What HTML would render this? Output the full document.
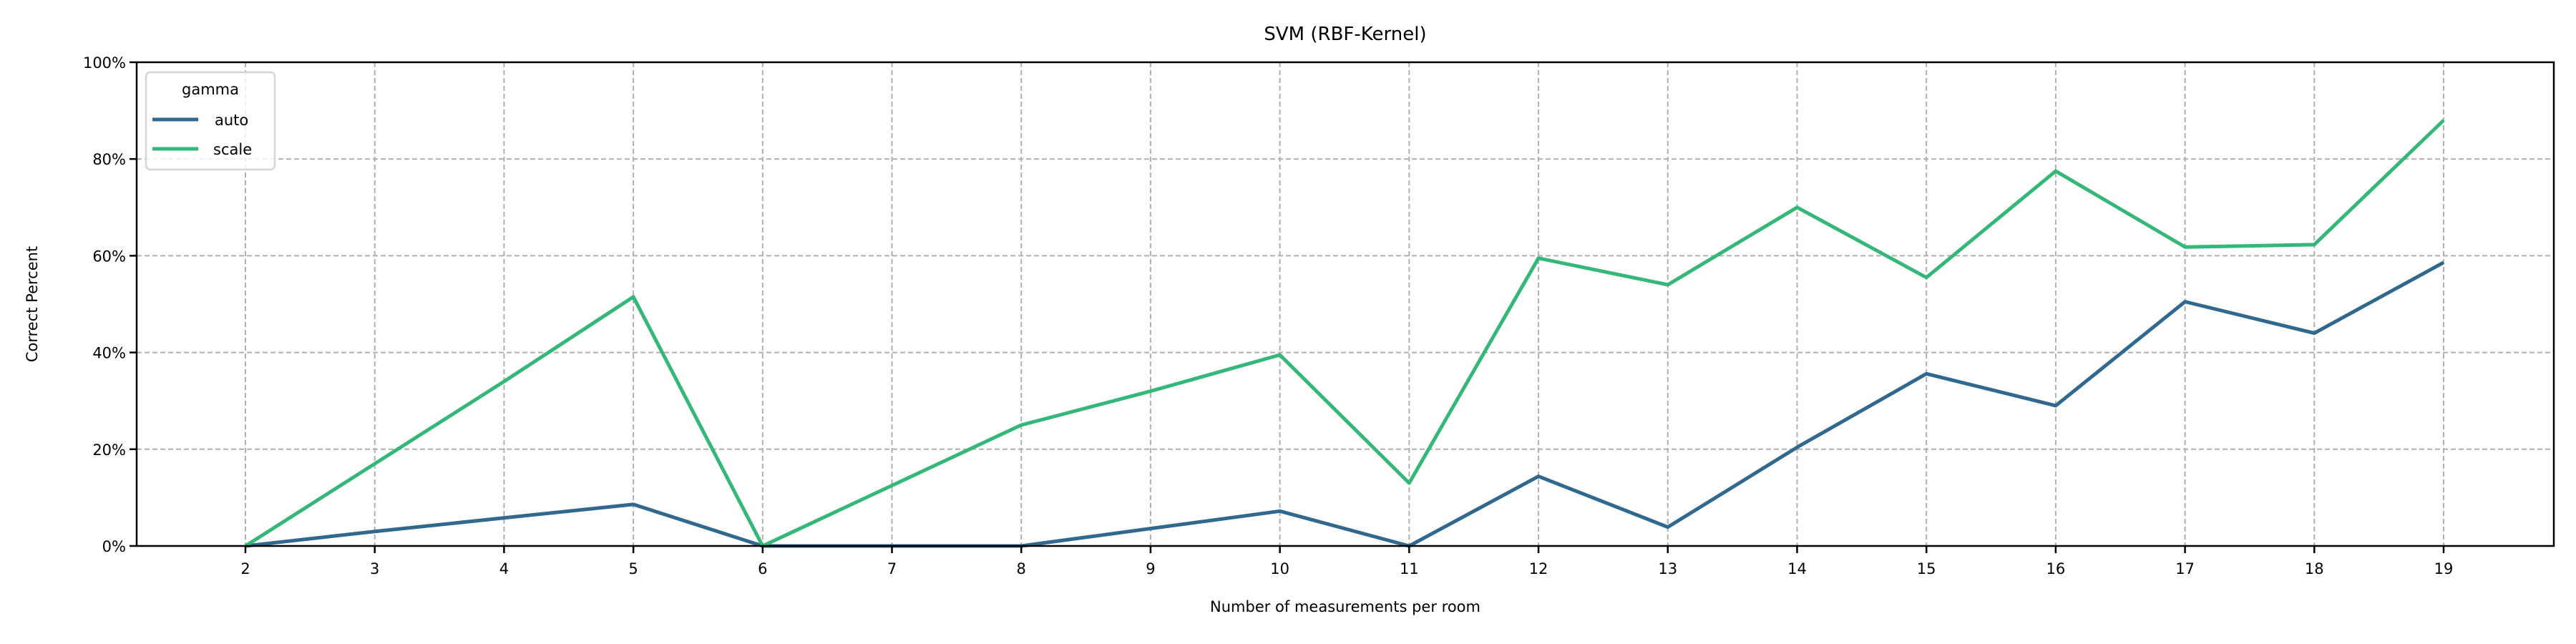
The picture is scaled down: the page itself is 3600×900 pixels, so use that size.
<!DOCTYPE html>
<html><head><meta charset="utf-8"><style>
html,body{margin:0;padding:0;background:#fff}
svg{display:block;font-family:"DejaVu Sans","Liberation Sans",sans-serif}
</style></head><body>
<svg id="chart" width="3600" height="900" viewBox="0 0 3600 900" xmlns="http://www.w3.org/2000/svg">
<text x="1880" y="56" font-size="26" text-anchor="middle">SVM (RBF-Kernel)</text>
<text x="1880" y="855" font-size="21" text-anchor="middle">Number of measurements per room</text>
<text transform="translate(52,425) rotate(-90)" font-size="21" text-anchor="middle">Correct Percent</text>
<g id="grid"></g>
<g id="series"></g>
<g id="axes"></g>
<g>
<rect x="204" y="101" width="180" height="136" rx="6" fill="#fff" fill-opacity="0.8" stroke="#d6d6d6" stroke-width="2.5"/>
<text x="294" y="132" font-size="21" text-anchor="middle">gamma</text>
<line x1="213" y1="167" x2="277" y2="167" stroke="#31688e" stroke-width="5"/>
<text x="300" y="175" font-size="21">auto</text>
<line x1="213" y1="208" x2="277" y2="208" stroke="#35b779" stroke-width="5"/>
<text x="298" y="216" font-size="21">scale</text>
</g>
</svg>
<script>
const categories = [2,3,4,5,6,7,8,9,10,11,12,13,14,15,16,17,18,19];
const autoValues = [0,3,5.8,8.6,0,0,0,3.6,7.2,0,14.4,3.9,20.4,35.6,29,50.5,44,58.6];
const scaleValues = [0,17,34,51.5,0,12.5,25,32,39.5,13,59.5,54,70,55.5,77.5,61.8,62.3,88];
const yTicks = [0,20,40,60,80,100];
const yTickLabels = ["0%","20%","40%","60%","80%","100%"];

const L=191,R=3569,T=87,B=763;
const xs = c => 343 + (c-2)*(3415-343)/17;
const ys = v => B - v*(B-T)/100;
const NS="http://www.w3.org/2000/svg";
function mk(tag, attrs, parent){const e=document.createElementNS(NS,tag);for(const k in attrs)e.setAttribute(k,attrs[k]);parent.appendChild(e);return e;}
const grid=document.getElementById('grid'),axes=document.getElementById('axes'),series=document.getElementById('series');
categories.forEach(c=>{
  const g=mk('line',{x1:xs(c),x2:xs(c),y1:T,y2:B,stroke:'#b0b0b0','stroke-width':2,'stroke-dasharray':'7,4'},grid);
  
  
  const t=mk('line',{x1:xs(c),x2:xs(c),y1:B,y2:B+10,stroke:'#000','stroke-width':2.5},axes);
  
  
  const l=mk('text',{x:xs(c),y:B+39,'font-size':21,'text-anchor':'middle'},axes);
  l.textContent=c;
  
  
});
yTicks.forEach((v,i)=>{
  if(v>0&&v<100){const g=mk('line',{x1:L,x2:R,y1:ys(v),y2:ys(v),stroke:'#b0b0b0','stroke-width':2,'stroke-dasharray':'7,4'},grid);
  
  }
  const t=mk('line',{x1:L-10,x2:L,y1:ys(v),y2:ys(v),stroke:'#000','stroke-width':2.5},axes);
  
  
  const l=mk('text',{x:L-15,y:ys(v)+8,'font-size':21,'text-anchor':'end'},axes);
  l.textContent=yTickLabels[i];
  
  
});
const frame=mk('rect',{x:L,y:T,width:R-L,height:B-T,fill:'none',stroke:'#000','stroke-width':2.5},axes);


function line(vals,color,name){
  const p=mk('polyline',{points:vals.map((v,i)=>xs(categories[i])+','+ys(v)).join(' '),fill:'none',stroke:color,'stroke-width':5,'stroke-linejoin':'round'},series);
  
  
}
line(autoValues,'#31688e','line-auto');
line(scaleValues,'#35b779','line-scale');
</script>
</body></html>
